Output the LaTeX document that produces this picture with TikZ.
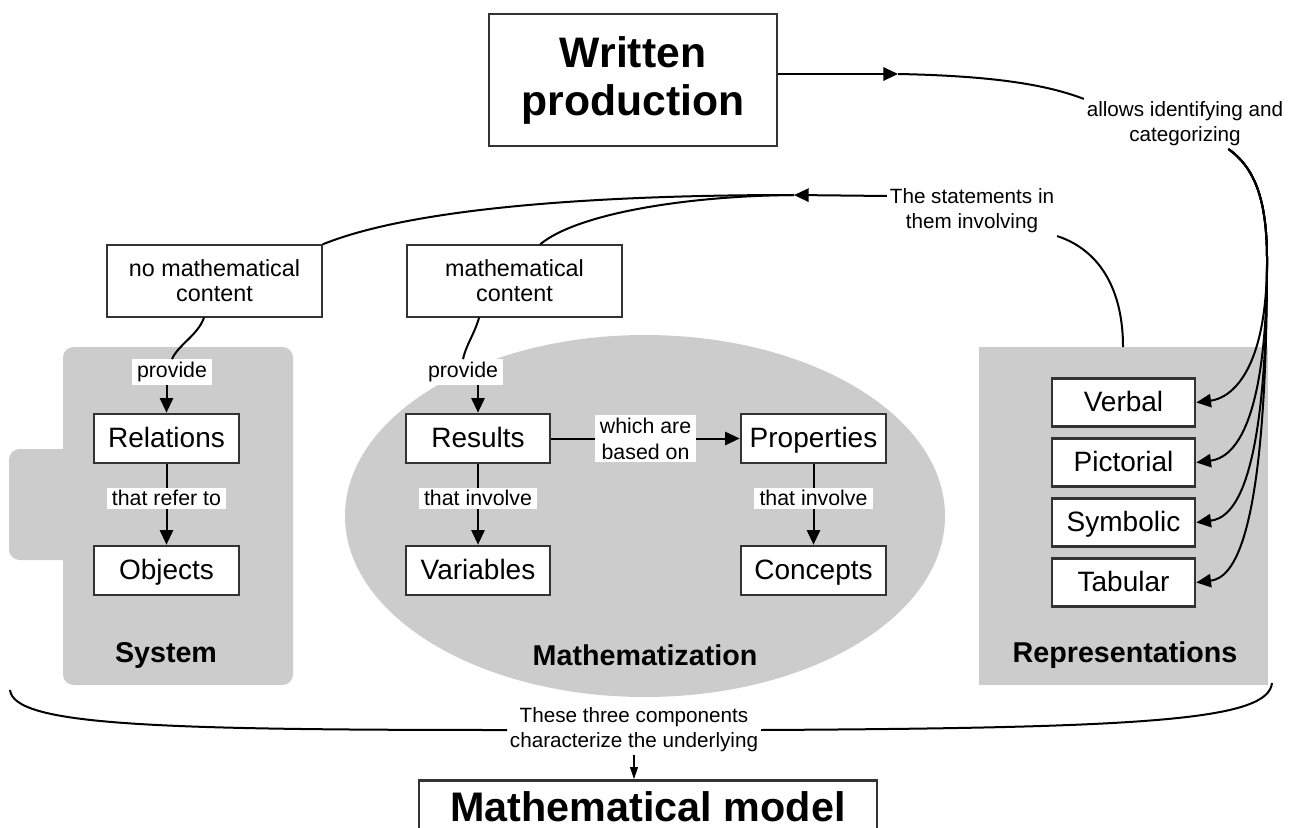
\documentclass[tikz,border=0pt]{standalone}
\usepackage{fontspec}
\setmainfont{Liberation Sans}
\usetikzlibrary{arrows.meta}
\definecolor{panelgray}{HTML}{CCCCCC}
\definecolor{boxline}{HTML}{333333}

\begin{document}
\begin{tikzpicture}[x=0.75pt, y=-0.75pt,
        >={Triangle[length=11pt,width=10pt]},
        conn/.style={line width=1.5pt},
        panel/.style={fill=panelgray},
        item/.style={draw=boxline, line width=2pt, fill=white, minimum width=108.75pt,
            minimum height=36.75pt, inner sep=0pt, text height=18.5pt, text depth=4.5pt,
            font=\fontsize{21}{25}\selectfont},
        lbl/.style={fill=white, inner xsep=4pt, inner ysep=2pt, align=center,
            font=\fontsize{16}{19.5}\selectfont},
        content/.style={draw=boxline, line width=1pt, fill=white, minimum width=161.25pt,
            minimum height=54pt, align=center, font=\fontsize{17.5}{18.75}\selectfont},
        note/.style={inner sep=2pt, align=center, font=\fontsize{15.5}{18.75}\selectfont},
        title/.style={font=\bfseries\fontsize{21.5}{26}\selectfont},
        headbox/.style={draw=boxline, line width=2.2pt, fill=white, align=center,
            font=\bfseries\fontsize{32}{36}\selectfont}]
        \useasboundingbox (0, 0) rectangle (1301, 827);
        \clip (0, 0) rectangle (1301, 827);
        
        % panels
        \fill[panel, rounded corners=8pt] (9, 449) rectangle (80, 560);
        \fill[panel, rounded corners=8pt] (63, 347) rectangle (293, 685);
        \fill[panel] (645, 516) ellipse [x radius=300, y radius=181];
        \fill[panel] (979, 347) rectangle (1268, 685);
        \coordinate (reptop) at (1123, 347);
        
        \node[title] (systitle) at (166, 655) {System};
        \node[title] (mathtitle) at (645, 655) {Mathematization};
        \node[title] (reptitle) at (1125, 655) {Representations};
        
        % boxes
        \node[headbox, minimum width=216pt, minimum height=99pt] (wp) at (633, 80) {Written\\production};
        \node[headbox, minimum width=343.5pt, minimum height=40pt, text height=22pt, text depth=0pt,
            anchor=north, font=\bfseries\fontsize{31}{36}\selectfont] (mm) at (648, 779) {Mathematical model};
        
        \node[content] (nomc) at (214.5, 281) {no mathematical\\content};
        \node[content] (mc) at (514.5, 281) {mathematical\\content};
        
        \node[item] (rel) at (166.5, 438.5) {Relations};
        \node[item] (obj) at (166.5, 570.5) {Objects};
        \node[item, minimum width=108pt] (res) at (478, 438.5) {Results};
        \node[item, minimum width=108pt] (var) at (478, 570.5) {Variables};
        \node[item] (prop) at (813.5, 438.5) {Properties};
        \node[item] (conc) at (813.5, 570.5) {Concepts};
        
        \foreach \n/\t/\y in {verb/Verbal/402.5, pict/Pictorial/462.5, symb/Symbolic/522.5, tabu/Tabular/582.5} {
            \node[item, minimum width=107.25pt, minimum height=36pt] (\n) at (1123.5, \y) {\t};
        }
        
        % labels
        \node[lbl] (prov1) at (172, 372) {provide};
        \node[lbl] (prov2) at (463, 372) {provide};
        \node[note] (allows) at (1185, 124) {allows identifying and\\categorizing};
        \node[note] (stmt) at (972, 211) {The statements in\\them involving};
        \node[note] (three) at (634, 730) {These three components\\characterize the underlying};
        
        % connectors
        \coordinate (a1) at (898, 74);
        \draw[conn, ->] (wp.east |- a1) -- (a1);
        \draw[conn] (a1) .. controls (1000, 76) and (1050, 86) .. (allows.north west);
        \foreach \r/\ca/\cb in {verb/370/398, pict/430/458, symb/490/518, tabu/545/578} {
            \draw[conn, ->] (allows.-30) .. controls (1255, 168) and (1267, 200) .. (1267, 260)
                .. controls (1267, \ca) and (1232, \cb) .. (\r.east);
        }
        
        \coordinate (j2) at (794, 195);
        \draw[conn] (reptop) .. controls (1123, 290) and (1100, 250) .. (stmt.south east);
        \draw[conn, ->] (stmt.170) -- (j2);
        \draw[conn] (j2) .. controls (620, 195) and (420, 205) .. (nomc.north east);
        \draw[conn] (j2) .. controls (680, 196) and (575, 215) .. (mc.55);
        
        \draw[conn] (nomc.254) .. controls (198, 335) and (178, 345) .. (prov1.north);
        \draw[conn, ->] (prov1.south -| rel.north) -- (rel.north);
        \draw[conn] (mc.226) .. controls (474, 335) and (466, 345) .. (prov2.north);
        \draw[conn, ->] (prov2.south -| res.north) -- (res.north);
        
        \draw[conn, ->] (rel) -- node[lbl, pos=0.42] {that refer to} (obj);
        \draw[conn, ->] (res) -- node[lbl, pos=0.42] {that involve} (var);
        \draw[conn, ->] (prop) -- node[lbl, pos=0.42] {that involve} (conc);
        \draw[conn, ->] (res) -- node[lbl] {which are\\based on} (prop);
        
        \coordinate (b1) at (10, 690);
        \coordinate (b2) at (1272, 683);
        \draw[conn] (b1) .. controls (14, 725) and (150, 730) .. (three.west);
        \draw[conn] (three.east) .. controls (1150, 728) and (1268, 720) .. (b2);
        \draw[line width=0.8pt, -{Triangle[length=9pt,width=6pt]}] (three.south) -- (three.south |- mm.north);
        
    \end{tikzpicture}
\end{document}
